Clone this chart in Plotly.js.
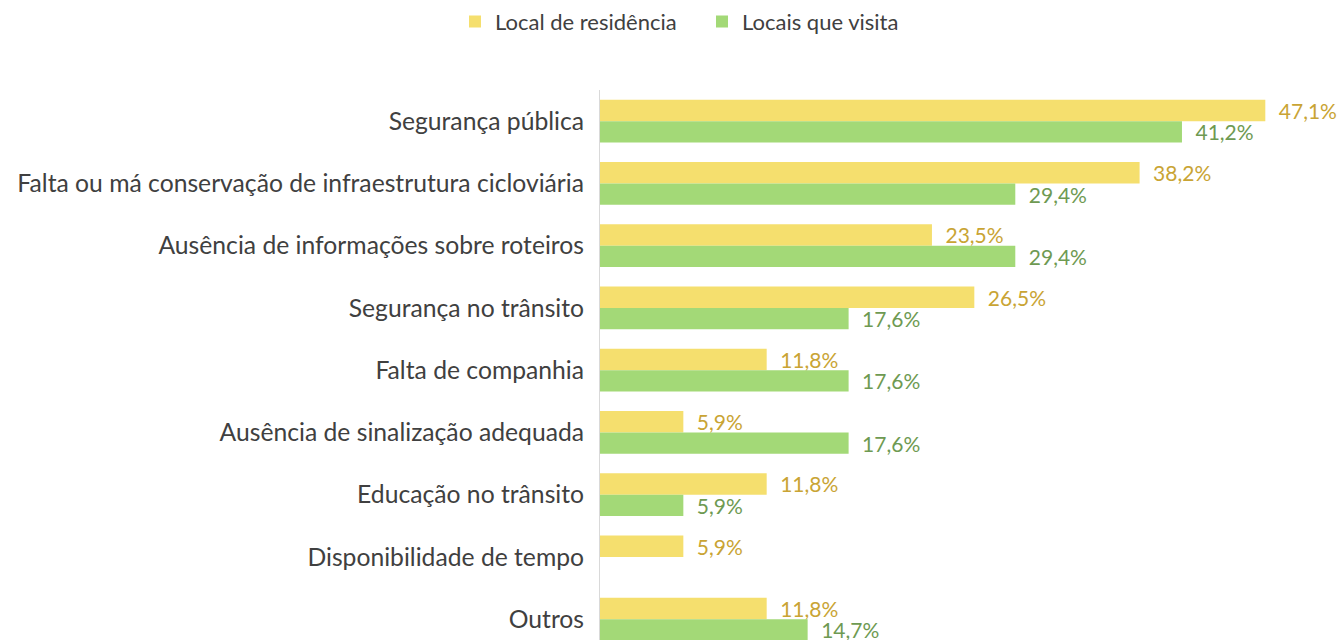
<!DOCTYPE html>
<html><head><meta charset="utf-8">
<script src="https://cdn.plot.ly/plotly-3.0.1.min.js"></script>
<style>body{margin:0;background:#fff}#c{width:1343px;height:640px}</style>
</head><body><div id="c"></div>
<script>
const categories = ["Segurança pública","Falta ou má conservação de infraestrutura cicloviária","Ausência de informações sobre roteiros","Segurança no trânsito","Falta de companhia","Ausência de sinalização adequada","Educação no trânsito","Disponibilidade de tempo","Outros"];
const residencia = [47.1,38.2,23.5,26.5,11.8,5.9,11.8,5.9,11.8];
const visita = [41.2,29.4,29.4,17.6,17.6,17.6,5.9,null,14.7];
const seriesNames = ["Local de residência","Locais que visita"];
const fmt = v => v==null ? "" : "\u2002" + v.toFixed(1).replace(".",",")+"%";
const font = "Lato, 'Open Sans', sans-serif";
const traces = [
 {type:"bar",orientation:"h",name:seriesNames[0],y:categories,x:residencia,
  marker:{color:"#F5DF6E"},text:residencia.map(fmt),textposition:"outside",constraintext:"none",
  textfont:{color:"#C9A434",size:21,family:font},cliponaxis:false},
 {type:"bar",orientation:"h",name:seriesNames[1],y:categories,x:visita,
  marker:{color:"#A3D977"},text:visita.map(fmt),textposition:"outside",constraintext:"none",
  textfont:{color:"#6E9A52",size:21,family:font},cliponaxis:false}
];
const layout = {
 width:1343,height:640,margin:{l:600,r:0,t:90,b:0},
 paper_bgcolor:"#fff",plot_bgcolor:"#fff",
 barmode:"group",bargap:0.31,bargroupgap:0,
 font:{family:font,color:"#404040",size:25},
 showlegend:true,
 legend:{orientation:"h",xref:"container",yref:"container",x:455/1343,xanchor:"left",y:0.966,yanchor:"middle",
  font:{size:22,color:"#404040"},traceorder:"normal",itemwidth:30,entrywidth:202,entrywidthmode:"pixels"},
 xaxis:{range:[0,52.6],showgrid:false,zeroline:false,showticklabels:false,showline:false,fixedrange:true},
 yaxis:{type:"category",range:[8.335,-0.5],showline:true,linecolor:"#D9D9D9",linewidth:1,ticks:"",ticklabelstandoff:10,
  tickfont:{size:24.7,color:"#404040"},showgrid:false,automargin:false}
};
Plotly.newPlot("c",traces,layout,{displayModeBar:false,staticPlot:true});
</script></body></html>
